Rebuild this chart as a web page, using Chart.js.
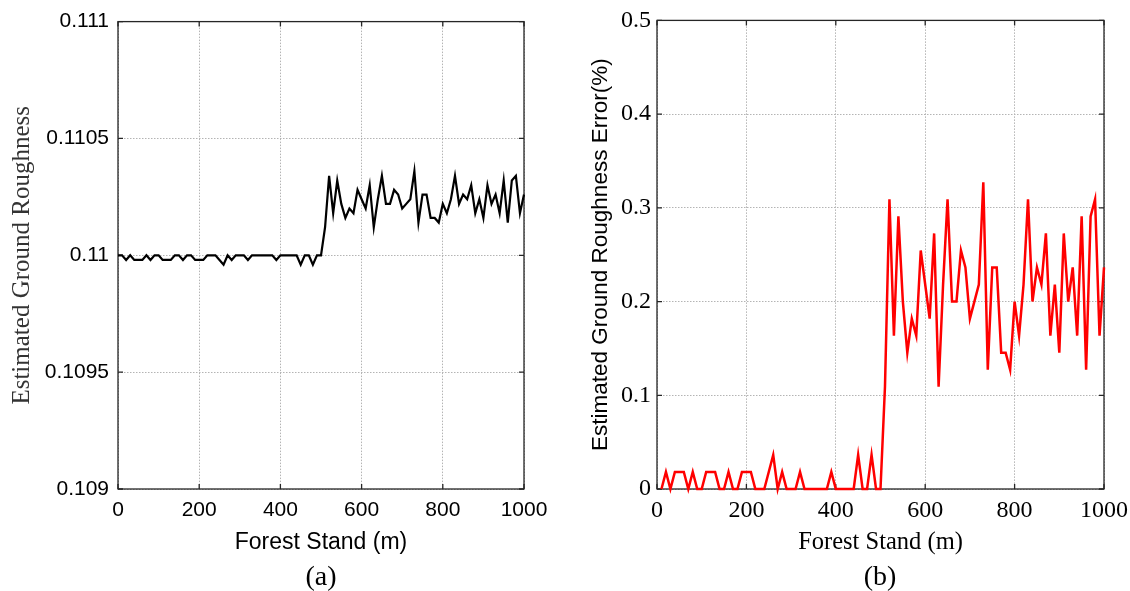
<!DOCTYPE html>
<html>
<head>
<meta charset="utf-8">
<script src="https://cdn.jsdelivr.net/npm/chart.js@4.4.1/dist/chart.umd.min.js"></script>
<style>
  html, body { margin: 0; padding: 0; background: #fff; }
  #wrap { position: relative; width: 1130px; height: 591px; overflow: hidden; }
  canvas { position: absolute; top: 0; }
  .cap { position: absolute; top: 562px; width: 100px; text-align: center;
         font-family: "Liberation Serif", serif; font-size: 28px; line-height: 28px; color: #000; }
</style>
</head>
<body>
<div id="wrap">
  <canvas id="chartA" width="565" height="591" style="left:0"></canvas>
  <canvas id="chartB" width="565" height="591" style="left:565px"></canvas>
  <div class="cap" style="left:271px">(a)</div>
  <div class="cap" style="left:830px">(b)</div>
</div>
<script>
// forest stand position (m)
const stand = [0, 10, 20, 30, 40, 50, 60, 70, 80, 90, 100, 110, 120, 130, 140, 150, 160, 170, 180, 190,
  200, 210, 220, 230, 240, 250, 260, 270, 280, 290, 300, 310, 320, 330, 340, 350, 360, 370, 380, 390,
  400, 410, 420, 430, 440, 450, 460, 470, 480, 490, 500, 510, 520, 530, 540, 550, 560, 570, 580, 590,
  600, 610, 620, 630, 640, 650, 660, 670, 680, 690, 700, 710, 720, 730, 740, 750, 760, 770, 780, 790,
  800, 810, 820, 830, 840, 850, 860, 870, 880, 890, 900, 910, 920, 930, 940, 950, 960, 970, 980, 990, 1000]

// (a) estimated ground roughness
const roughness = [0.11, 0.11, 0.10998, 0.11, 0.10998, 0.10998, 0.10998, 0.11, 0.10998, 0.11,
  0.11, 0.10998, 0.10998, 0.10998, 0.11, 0.11, 0.10998, 0.11, 0.11, 0.10998,
  0.10998, 0.10998, 0.11, 0.11, 0.11, 0.10998, 0.10996, 0.11, 0.10998, 0.11,
  0.11, 0.11, 0.10998, 0.11, 0.11, 0.11, 0.11, 0.11, 0.11, 0.10998,
  0.11, 0.11, 0.11, 0.11, 0.11, 0.10996, 0.11, 0.11, 0.10996, 0.11,
  0.11, 0.11012, 0.11034, 0.11018, 0.11032, 0.11022, 0.11016, 0.1102, 0.11018, 0.11028,
  0.11024, 0.1102, 0.1103, 0.11012, 0.11024, 0.11034, 0.11022, 0.11022, 0.11028, 0.11026,
  0.1102, 0.11022, 0.11024, 0.11036, 0.11014, 0.11026, 0.11026, 0.11016, 0.11016, 0.11014,
  0.11022, 0.11018, 0.11024, 0.11034, 0.11022, 0.11026, 0.11024, 0.1103, 0.11018, 0.11024,
  0.11016, 0.1103, 0.11022, 0.11026, 0.11018, 0.11032, 0.11014, 0.11032, 0.11034, 0.11018, 0.11026]

// (b) estimated ground roughness error (%)
const roughnessError = [null, 0, 0.0182, 0, 0.0182, 0.0182, 0.0182, 0, 0.0182, 0,
  0, 0.0182, 0.0182, 0.0182, 0, 0, 0.0182, 0, 0, 0.0182,
  0.0182, 0.0182, 0, 0, 0, 0.0182, 0.0364, 0, 0.0182, 0,
  0, 0, 0.0182, 0, 0, 0, 0, 0, 0, 0.0182,
  0, 0, 0, 0, 0, 0.0364, 0, 0, 0.0364, 0,
  0, 0.1091, 0.3091, 0.1636, 0.2909, 0.2, 0.1455, 0.1818, 0.1636, 0.2545,
  0.2182, 0.1818, 0.2727, 0.1091, 0.2182, 0.3091, 0.2, 0.2, 0.2545, 0.2364,
  0.1818, 0.2, 0.2182, 0.3273, 0.1273, 0.2364, 0.2364, 0.1455, 0.1455, 0.1273,
  0.2, 0.1636, 0.2182, 0.3091, 0.2, 0.2364, 0.2182, 0.2727, 0.1636, 0.2182,
  0.1455, 0.2727, 0.2, 0.2364, 0.1636, 0.2909, 0.1273, 0.2909, 0.3091, 0.1636, 0.2364]

const SANS = '"Liberation Sans", Arial, sans-serif'
const SERIF = '"Liberation Serif", "Times New Roman", serif'

// matlab style box with inward tick marks
const boxTicks = {
  id: 'boxTicks',
  beforeDatasetsDraw(chart) {
    const { ctx, chartArea: a, scales: { x, y } } = chart
    ctx.save()
    ctx.strokeStyle = '#262626'
    ctx.lineWidth = 1.3
    ctx.beginPath()
    x.ticks.forEach(t => {
      const px = x.getPixelForValue(t.value)
      ctx.moveTo(px, a.bottom); ctx.lineTo(px, a.bottom - 5)
      ctx.moveTo(px, a.top); ctx.lineTo(px, a.top + 5)
    })
    y.ticks.forEach(t => {
      const py = y.getPixelForValue(t.value)
      ctx.moveTo(a.left, py); ctx.lineTo(a.left + 5, py)
      ctx.moveTo(a.right, py); ctx.lineTo(a.right - 5, py)
    })
    ctx.stroke()
    ctx.strokeRect(a.left, a.top, a.right - a.left, a.bottom - a.top)
    ctx.restore()
  }
}

const gridStyle = { color: '#b4b4b4', lineWidth: 1, drawTicks: false }
const borderStyle = { display: false, dash: [1.5, 1.5] }

// fixed x axis band, label overflow handled by layout padding
const fitX = s => { s.height = 102; s.paddingLeft = 0; s.paddingRight = 0 }

new Chart(document.getElementById('chartA'), {
  type: 'line',
  data: {
    datasets: [{
      data: stand.map((s, i) => ({ x: s, y: roughness[i] })),
      borderColor: '#000',
      borderWidth: 2.2,
      pointRadius: 0,
      tension: 0,
      clip: false
    }]
  },
  options: {
    responsive: false,
    animation: false,
    layout: { padding: { left: 0, right: 41, top: 19, bottom: 0 } },
    plugins: { legend: { display: false }, tooltip: { enabled: false } },
    scales: {
      x: {
        type: 'linear', min: 0, max: 1000,
        grid: gridStyle, border: borderStyle,
        ticks: { stepSize: 200, color: '#000', padding: 9, font: { family: SANS, size: 21, lineHeight: 1.2 },
          callback: v => String(v) },
        title: { display: true, text: 'Forest Stand (m)', color: '#000',
          font: { family: SANS, size: 23, lineHeight: 1.2 }, padding: { top: 0, bottom: 35 } },
        afterFit: fitX
      },
      y: {
        min: 0.109, max: 0.111,
        grid: gridStyle, border: borderStyle,
        ticks: { stepSize: 0.0005, color: '#000', padding: 9,
          font: { family: SANS, size: 21, lineHeight: 1.2 },
          callback: v => String(+v.toFixed(4)) },
        title: { display: true, text: 'Estimated Ground Roughness', color: '#333',
          font: { family: SERIF, size: 25, lineHeight: 1.2 }, padding: { top: 7, bottom: 0 } },
        afterFit: s => { s.width = 118 }
      }
    }
  },
  plugins: [boxTicks]
})

new Chart(document.getElementById('chartB'), {
  type: 'line',
  data: {
    datasets: [{
      data: stand.map((s, i) => ({ x: s, y: roughnessError[i] })),
      borderColor: '#ff0000',
      borderWidth: 2.5,
      pointRadius: 0,
      tension: 0,
      spanGaps: false,
      clip: false
    }]
  },
  options: {
    responsive: false,
    animation: false,
    layout: { padding: { left: 0, right: 26, top: 19, bottom: 0 } },
    plugins: { legend: { display: false }, tooltip: { enabled: false } },
    scales: {
      x: {
        type: 'linear', min: 0, max: 1000,
        grid: gridStyle, border: borderStyle,
        ticks: { stepSize: 200, color: '#000', padding: 7.5, font: { family: SERIF, size: 24, lineHeight: 1.2 },
          callback: v => String(v) },
        title: { display: true, text: 'Forest Stand (m)', color: '#000',
          font: { family: SERIF, size: 24.5, lineHeight: 1.2 }, padding: { top: 0, bottom: 34 } },
        afterFit: fitX
      },
      y: {
        min: 0, max: 0.5,
        grid: gridStyle, border: borderStyle,
        ticks: { stepSize: 0.1, color: '#000', padding: 6,
          font: { family: SERIF, size: 24, lineHeight: 1.2 },
          callback: v => String(+v.toFixed(1)) },
        title: { display: true, text: 'Estimated Ground Roughness Error(%)', color: '#000',
          font: { family: SANS, size: 22.5, lineHeight: 1.2 }, padding: { top: 22.5, bottom: 0 } },
        afterFit: s => { s.width = 92 }
      }
    }
  },
  plugins: [boxTicks]
})
</script>
</body>
</html>
